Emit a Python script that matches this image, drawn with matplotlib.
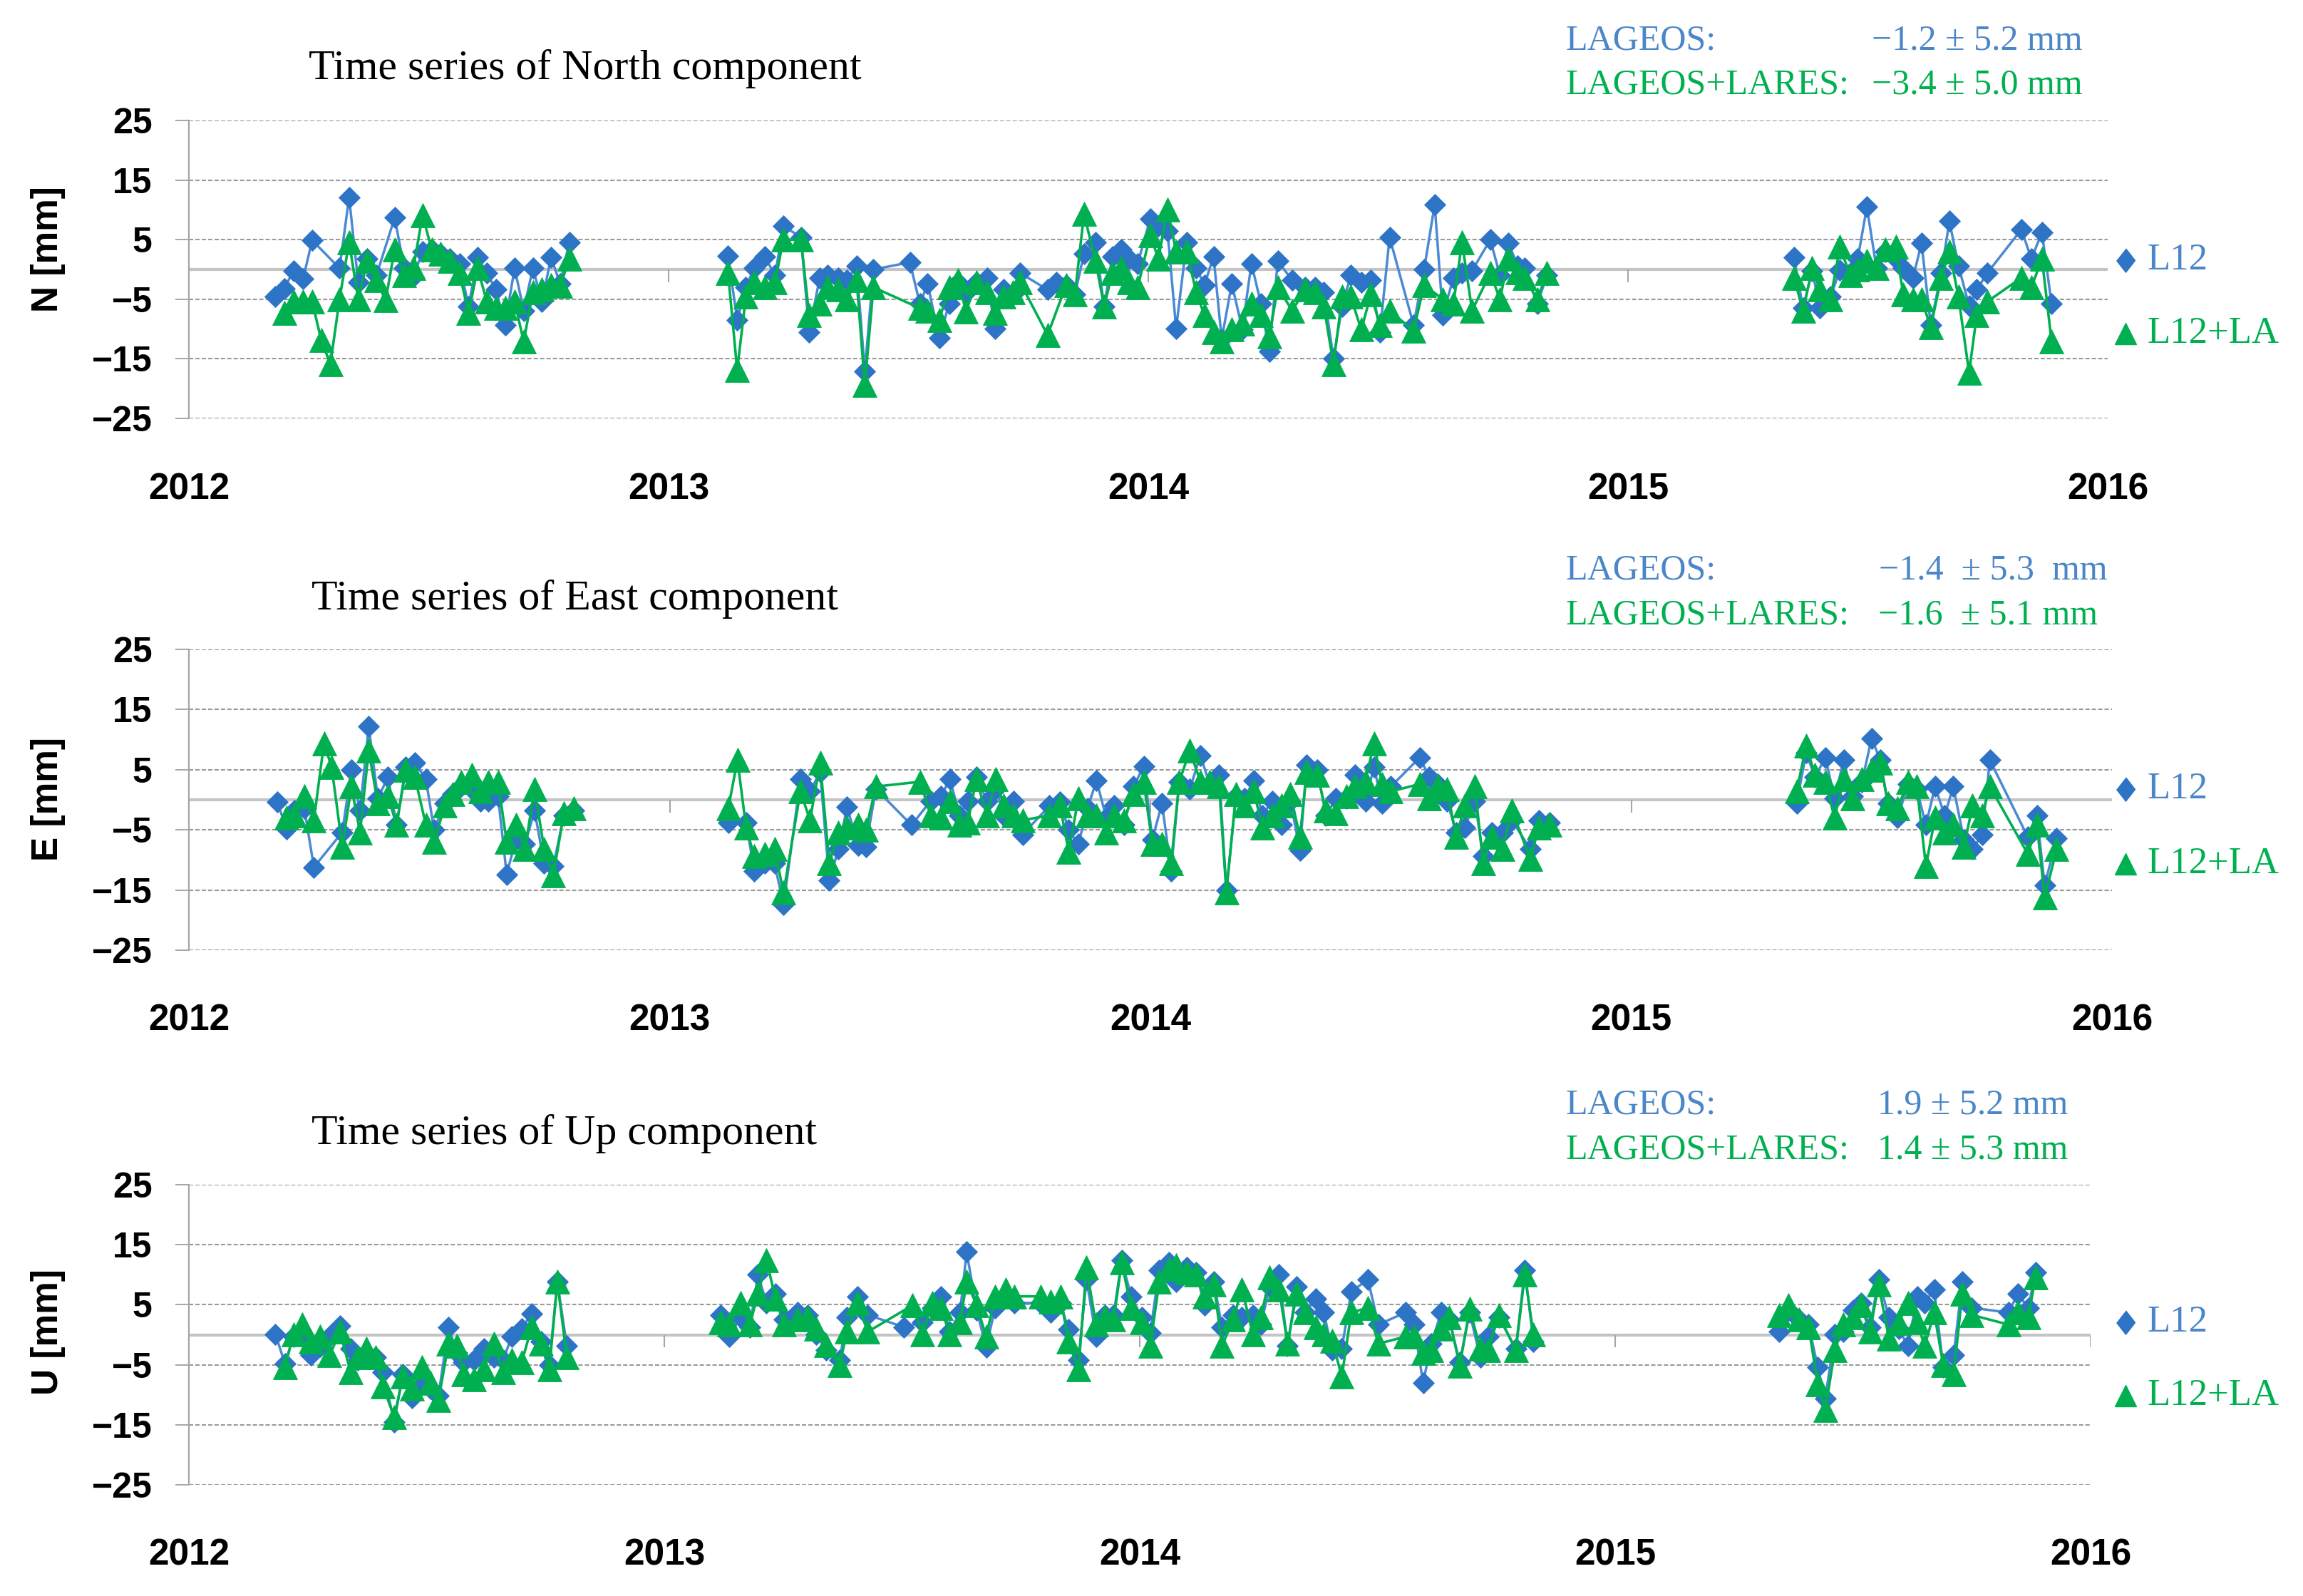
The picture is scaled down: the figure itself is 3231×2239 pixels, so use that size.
import matplotlib
matplotlib.use("Agg")
import matplotlib.pyplot as plt
from matplotlib.lines import Line2D
import numpy as np

# ---------------- data ----------------
years = [2012, 2013, 2014, 2015, 2016]
year_labels = ["2012", "2013", "2014", "2015", "2016"]
yticks = [-25, -15, -5, 5, 15, 25]
ytick_labels = ["\u221225", "\u221215", "\u22125", "5", "15", "25"]

# North component
N_t = [2012.180, 2012.199, 2012.218, 2012.238, 2012.257, 2012.276, 2012.295, 2012.314, 2012.334, 2012.353,
       2012.372, 2012.391, 2012.410, 2012.429, 2012.449, 2012.468, 2012.487, 2012.506, 2012.525, 2012.544,
       2012.564, 2012.583, 2012.602, 2012.621, 2012.640, 2012.659, 2012.679, 2012.698, 2012.717, 2012.736,
       2012.755, 2012.774, 2012.793,
       2013.124, 2013.143, 2013.161, 2013.178, 2013.200, 2013.222, 2013.239, 2013.276, 2013.293, 2013.315,
       2013.332, 2013.354, 2013.372, 2013.392, 2013.409, 2013.427, 2013.503, 2013.524, 2013.540, 2013.564,
       2013.585, 2013.603, 2013.620, 2013.642, 2013.664, 2013.680, 2013.699, 2013.718, 2013.733, 2013.790,
       2013.808, 2013.829, 2013.847, 2013.866, 2013.890, 2013.908, 2013.925, 2013.943, 2013.960, 2013.978,
       2014.004, 2014.021, 2014.040, 2014.058, 2014.080, 2014.100, 2014.117, 2014.136, 2014.153, 2014.174,
       2014.196, 2014.215, 2014.235, 2014.252, 2014.270, 2014.300, 2014.327, 2014.348, 2014.366, 2014.386,
       2014.404, 2014.422, 2014.444, 2014.464, 2014.483, 2014.503, 2014.553, 2014.575, 2014.597, 2014.614,
       2014.636, 2014.654, 2014.675, 2014.713, 2014.733, 2014.751, 2014.770, 2014.784, 2014.811, 2014.831,
       2015.346, 2015.365, 2015.384, 2015.400, 2015.422, 2015.442, 2015.463, 2015.479, 2015.498, 2015.518,
       2015.536, 2015.558, 2015.574, 2015.594, 2015.612, 2015.631, 2015.653, 2015.670, 2015.689, 2015.711,
       2015.727, 2015.749, 2015.820, 2015.841, 2015.863, 2015.883]
N_l12 = [-4.6, -3.2, -0.2, -1.6, 4.9, None, None, 0.2, 12.1, -2.2, 1.8, -1.0, None, 8.7, 0.2, -1.2, 3.0,
         3.4, 2.6, 1.8, 1.0, -6.2, 2.0, -0.6, -3.4, -9.3, 0.2, -6.9, 0.2, -5.4, 2.0, -2.4, 4.6,
         2.3, -8.5, -3.0, 0.2, 2.2, -1.0, 7.3, 5.4, -10.5, -1.4,
         -1.0, -1.4, -1.8, 0.6, -17.1, 0.0, 1.2, -5.8, -2.4, -11.5,
         -5.8, -2.2, -4.0, -2.2, -1.4, -9.9, -3.4, -4.2, -0.6, -3.4,
         -2.2, -2.6, -4.2, 2.6, 4.6, -6.2, 2.2, 3.4, 1.8, 1.0,
         8.5, 7.3, 6.5, -9.9, 4.6, 0.2, -2.6, 2.2, -11.7, -2.4,
         -10.0, 1.0, -5.8, -13.7, 1.4, -1.8, -3.0, -3.0, -3.8, -14.9,
         -6.2, -1.0, -2.2, -1.8, -10.5, 5.4, -9.3, 0.0, 10.9, -7.7,
         -1.4, -0.6, -0.2, 5.0, -1.0, 4.4, 0.6, 0.2, -5.8, -1.0,
         2.0, -6.5, -0.2, -6.5, -4.6, -0.1, -0.6, 1.8, 10.5, 0.2,
         3.0, 1.8, 0.2, -1.4, 4.4, -9.3, -0.6, 8.1, 0.6, -6.1,
         -3.4, -0.6, 6.7, 1.8, 6.2, -5.8]
N_l12la = [None, -7.3, -5.4, -5.4, -5.4, -11.9, -15.9, -5.0, 4.6, -5.0, 1.4, -1.8, -5.2, 3.4, -1.0, 0.2, 9.1,
           3.4, 2.6, 1.4, -0.6, -7.3, 0.2, -5.4, -6.5, -6.5, -5.4, -12.1, -3.8, -3.4, -2.6, -2.8, 1.8,
           -0.6, -16.9, -4.6, -2.2, -3.0, -2.2, 5.0, 5.0, -7.7, -5.8,
           -3.0, -3.4, -5.0, -1.8, -19.4, -3.0, None, -6.5, -6.9, -8.5,
           -3.0, -1.8, -7.0, -2.2, -3.8, -7.3, -4.6, -3.8, -2.2, -11.0,
           None, -2.6, -4.2, 9.3, 1.4, -6.2, -0.6, 0.2, -2.2, -3.0,
           5.8, 1.8, 10.1, 3.0, 3.0, -3.8, -7.7, -10.5, -12.1, -10.1,
           -9.1, -5.8, -7.7, -11.3, -3.0, -6.9, -3.4, -3.8, -6.2, -15.9,
           -4.6, -4.6, -10.1, -4.2, -9.3, -6.9, -10.3, -2.6, None, -5.0,
           -5.8, 4.6, -6.9, -0.6, -5.0, 1.8, -0.5, -1.4, -5.0, -0.6,
           -1.4, -6.9, 0.2, -3.4, -5.0, 3.8, -1.0, 0.0, 1.4, 0.2,
           3.4, 3.8, -4.2, -5.0, -5.0, -9.7, -1.4, 3.0, -4.6, -17.3,
           -7.7, -5.4, -1.4, -3.0, 1.8, -12.1]

# East component
E_t = [2012.184, 2012.203, 2012.220, 2012.240, 2012.260, 2012.281, 2012.297, 2012.319, 2012.338, 2012.356,
       2012.374, 2012.393, 2012.414, 2012.432, 2012.451, 2012.470, 2012.493, 2012.510, 2012.532, 2012.549,
       2012.566, 2012.588, 2012.606, 2012.623, 2012.643, 2012.661, 2012.680, 2012.699, 2012.719, 2012.739,
       2012.758, 2012.780, 2012.800,
       2013.122, 2013.141, 2013.159, 2013.176, 2013.198, 2013.218, 2013.237, 2013.272, 2013.292, 2013.313,
       2013.332, 2013.351, 2013.369, 2013.392, 2013.408, 2013.429, 2013.503, 2013.521, 2013.543, 2013.564,
       2013.583, 2013.603, 2013.620, 2013.638, 2013.660, 2013.679, 2013.695, 2013.716, 2013.734, 2013.790,
       2013.812, 2013.830, 2013.850, 2013.869, 2013.888, 2013.908, 2013.925, 2013.945, 2013.965, 2013.986,
       2014.004, 2014.024, 2014.043, 2014.060, 2014.082, 2014.104, 2014.123, 2014.143, 2014.158, 2014.178,
       2014.195, 2014.215, 2014.233, 2014.253, 2014.273, 2014.291, 2014.311, 2014.325, 2014.347, 2014.365,
       2014.386, 2014.408, 2014.426, 2014.447, 2014.465, 2014.482, 2014.500, 2014.560, 2014.580, 2014.598,
       2014.617, 2014.636, 2014.654, 2014.675, 2014.692, 2014.710, 2014.732, 2014.752, 2014.790, 2014.808,
       2014.830,
       2015.344, 2015.364, 2015.382, 2015.404, 2015.423, 2015.442, 2015.460, 2015.480, 2015.500, 2015.518,
       2015.534, 2015.554, 2015.576, 2015.594, 2015.613, 2015.632, 2015.652, 2015.670, 2015.692, 2015.710,
       2015.730, 2015.746, 2015.825, 2015.844, 2015.860, 2015.885]
E_l12 = [-0.4, -4.8, -1.8, -1.4, -11.2, None, None, -5.4, 5.0, -1.8, 12.2, 0.2, 3.8, -4.2, 5.4, 6.2, 3.4,
         -5.0, -0.6, 1.0, 2.2, 1.8, -0.2, -0.2, 0.6, -12.4, -6.6, -7.4, -1.8, -10.6, -11.0, -2.6, -1.8,
         -3.8, None, -3.8, -11.8, -10.6, -10.6, -17.4, 3.4, 1.4, 4.6,
         -13.4, -8.2, -1.2, -7.6, -7.8, 1.8, -4.2, None, -0.2, 0.6,
         3.4, -2.6, -0.2, 3.8, -0.2, 1.8, -2.6, -0.2, -5.8, -1.0,
         -0.4, -5.0, -7.4, -1.4, 3.2, -3.0, -1.0, -4.2, 2.2, 5.6,
         -6.6, -0.6, -11.8, 3.0, 1.8, 7.4, 2.6, 4.2, -15.0, 0.6,
         0.2, 3.2, -2.6, -0.2, -4.2, -0.2, -8.4, 5.8, 5.0, -2.6,
         0.2, 0.2, 4.2, -0.2, 5.4, -0.6, 2.2, 7.0, 3.8, 2.6,
         -0.2, -5.4, -4.6, -0.2, -9.4, -5.4, -5.4, -3.4, -8.2, -3.4,
         -3.8,
         -0.6, 7.8, 3.8, 7.0, 0.2, 6.6, 0.6, 3.0, 10.2, 6.6,
         -0.6, -3.0, 2.6, 1.8, -4.2, 2.2, -2.6, 2.2, -6.6, -8.2,
         -5.8, 6.6, -6.2, -2.6, -14.2, -6.4]
E_l12la = [None, -3.0, -2.6, 0.6, -3.4, 9.4, 5.4, -7.8, 2.2, -5.4, 8.2, -0.6, 0.6, -4.2, 5.0, 3.8, -4.2,
           -7.0, -1.0, 1.0, 3.0, 4.2, 1.4, 3.0, 3.0, -7.0, -4.2, -8.2, 1.8, -8.2, -12.6, -2.2, -1.4,
           -1.4, 6.6, -4.6, -9.4, -9.0, -8.2, -15.4, 1.4, -3.4, 6.2,
           -10.6, -5.4, -4.6, -4.2, -5.0, 2.2, None, 3.0, -2.6, -3.0,
           -0.2, -4.2, -3.8, 3.4, -2.6, 3.4, -1.0, -2.6, -3.4, -2.6,
           -1.0, -8.6, 0.2, -2.6, -2.6, -5.4, -2.6, -3.4, 1.0, 3.0,
           -7.4, -7.4, -10.6, 3.0, 8.2, 3.0, 3.0, 2.2, -15.4, 1.0,
           -1.0, 1.4, -4.6, -2.6, -1.0, 1.0, -6.2, 4.6, 4.2, -1.8,
           -2.2, 0.6, 2.2, 3.0, 9.4, 2.6, 1.4, 2.6, 0.2, 2.2,
           1.8, -6.2, -1.0, 2.2, -10.6, -6.2, -8.2, -1.8, -9.8, -4.6,
           -4.2,
           1.4, 9.0, 4.2, 3.0, -3.0, 3.4, 0.2, 3.4, 5.0, 6.2,
           -0.6, -1.4, 3.0, 2.2, -11.0, -3.0, -5.4, -4.2, -7.8, -1.0,
           -2.6, 2.2, -9.0, -4.2, -16.2, -8.2]

# Up component
U_t = [2012.182, 2012.202, 2012.220, 2012.239, 2012.256, 2012.276, 2012.296, 2012.318, 2012.340, 2012.355,
       2012.373, 2012.393, 2012.408, 2012.432, 2012.450, 2012.470, 2012.490, 2012.508, 2012.525, 2012.546,
       2012.564, 2012.577, 2012.599, 2012.620, 2012.641, 2012.661, 2012.679, 2012.700, 2012.721, 2012.740,
       2012.758, 2012.775, 2012.795,
       2013.118, 2013.136, 2013.160, 2013.180, 2013.197, 2013.215, 2013.234, 2013.252, 2013.280, 2013.302,
       2013.320, 2013.340, 2013.369, 2013.384, 2013.406, 2013.428, 2013.503, 2013.522, 2013.543, 2013.564,
       2013.582, 2013.600, 2013.622, 2013.636, 2013.657, 2013.677, 2013.696, 2013.718, 2013.736, 2013.791,
       2013.812, 2013.833, 2013.850, 2013.871, 2013.888, 2013.908, 2013.927, 2013.945, 2013.962, 2013.982,
       2014.004, 2014.022, 2014.041, 2014.061, 2014.076, 2014.099, 2014.119, 2014.136, 2014.156, 2014.173,
       2014.196, 2014.215, 2014.238, 2014.255, 2014.273, 2014.293, 2014.311, 2014.330, 2014.348, 2014.370,
       2014.387, 2014.405, 2014.425, 2014.445, 2014.480, 2014.502, 2014.559, 2014.577, 2014.596, 2014.613,
       2014.634, 2014.651, 2014.673, 2014.694, 2014.716, 2014.733, 2014.755, 2014.791, 2014.810, 2014.828,
       2015.345, 2015.365, 2015.387, 2015.407, 2015.426, 2015.442, 2015.462, 2015.480, 2015.500, 2015.517,
       2015.536, 2015.554, 2015.576, 2015.596, 2015.616, 2015.635, 2015.651, 2015.671, 2015.690, 2015.712,
       2015.730, 2015.750, 2015.827, 2015.847, 2015.869, 2015.884]
U_l12 = [0.1, -4.8, -0.3, -0.3, -3.4, -2.0, -0.3, 1.5, -2.3, -4.2, -3.8, -3.8, -6.2, -14.5, -6.6, -10.5, -8.2,
         -9.0, -10.2, 1.3, -3.0, -4.6, -4.2, -2.3, -3.8, -4.2, -0.3, 1.0, 3.5, -1.1, -5.0, 8.8, -1.9,
         3.3, -0.3, 2.9, 1.3, 10.0, 5.3, 6.8, 2.5, 3.7, 3.3,
         0.1, -2.6, -4.2, 2.9, 6.4, 3.3, 1.3, None, 2.1, 4.5,
         6.4, 0.5, 3.7, 13.8, 4.1, -2.1, 4.5, 6.4, 5.3, 5.3,
         3.7, 5.3, 0.9, -4.2, 9.2, -0.3, 3.3, 3.3, 12.4, 6.4,
         2.9, 0.3, 10.8, 12.0, 8.8, 11.2, 10.4, 4.9, 8.8, 1.3,
         3.3, 2.9, 3.3, 1.7, 8.0, 10.0, -1.9, 8.0, 3.7, 6.0,
         3.7, -2.6, -2.3, 7.2, 9.2, 1.7, 3.7, 1.7, -8.0, -1.5,
         3.7, 2.5, -4.6, 3.7, -3.8, -0.3, 2.9, -2.3, 10.8, -1.1,
         0.5, 4.1, 2.5, 1.7, -5.4, -10.6, 0.1, 0.5, 4.1, 5.3,
         1.3, 9.2, 2.9, 1.0, -1.9, 6.4, 5.3, 7.6, -5.4, -3.4,
         8.8, 4.5, 3.7, 6.8, 4.5, 10.4]
U_l12la = [None, -5.4, 0.1, 1.7, -1.1, -0.3, -3.4, 0.5, -6.2, -3.8, -2.3, -3.8, -8.6, -13.7, -7.0, -9.0, -5.4,
           -8.0, -10.9, -1.5, -1.9, -6.6, -7.4, -5.8, -1.5, -6.2, -4.2, -4.6, 1.3, -1.5, -5.8, 8.8, -3.8,
           2.1, 1.7, 5.3, 1.7, 6.8, 12.4, 6.0, 1.7, 2.5, 2.9,
           1.0, -1.7, -5.0, 0.5, 5.3, 0.5, None, 4.9, 0.1, 5.3,
           4.5, 0.1, 2.1, 8.8, 4.9, -0.3, 6.4, 7.6, 6.4, 6.4,
           5.5, 6.4, -1.1, -5.8, 11.2, 1.7, 2.9, 2.5, 12.0, 4.5,
           2.1, -1.9, 8.8, 11.0, 11.6, 10.4, 10.0, 6.4, 8.4, -1.9,
           2.5, 7.6, 0.1, 2.9, 9.6, 7.6, -1.5, 6.8, 3.7, 1.3,
           0.1, -1.0, -7.0, 3.7, 4.5, -1.5, -0.3, -0.3, -3.0, -2.6,
           1.0, 2.9, -5.2, 4.3, -2.3, -2.6, 3.3, -2.6, 10.0, 0.1,
           3.3, 4.9, 2.5, 1.3, -8.2, -12.5, -2.6, 1.7, 2.9, 4.9,
           0.5, 8.4, -0.7, 2.0, 5.3, 2.1, -1.9, 3.7, -5.0, -6.6,
           6.8, 3.3, 1.7, 3.7, 2.9, 9.6]

titles = ["Time series of North component", "Time series of East component", "Time series of Up component"]
ylabels = ["N [mm]", "E [mm]", "U [mm]"]
stats_l12 = ["\u22121.2 \u00b1 5.2 mm", "\u22121.4  \u00b1 5.3  mm", "1.9 \u00b1 5.2 mm"]
stats_l12la = ["\u22123.4 \u00b1 5.0 mm", "\u22121.6  \u00b1 5.1 mm", "1.4 \u00b1 5.3 mm"]
legend_labels = ["L12", "L12+LA"]

# ---------------- style ----------------
BLUE_M = "#2e74c6"
BLUE_L = "#4a8ad4"
BLUE_T = "#4a86c8"
GREEN = "#00b050"
GRID = "#9a9a9a"
AXIS = "#a6a6a6"
SERIF = "Liberation Serif"
SANS = "Liberation Sans"

W, H = 3231, 2239
fig = plt.figure(figsize=(W / 100, H / 100), dpi=100)


def fx(px):
    return px / W


def fy(py):
    return 1 - py / H


# layout in pixels: (left, right, top(=+25), bottom(=-25))
layouts = [(265, 2957, 169, 587), (265, 2963, 911, 1333), (265, 2933, 1662, 2083)]
title_pos = [(433, 97), (437, 841), (437, 1591)]
ylabel_y = [350, 1121, 1869]
stat_rows = [(57, 119, 2922, 2922), (800, 863, 2957, 2943), (1550, 1613, 2901, 2901)]
legend_rows = [(365, 468), (1107, 1212), (1855, 1958)]
year_ticks_shown = [[2013, 2014, 2015], [2013, 2014, 2015], [2013, 2014, 2015, 2016]]

series = [(N_t, N_l12, N_l12la), (E_t, E_l12, E_l12la), (U_t, U_l12, U_l12la)]
tall_diamond = [(0, 1), (0.78, 0), (0, -1), (-0.78, 0)]


def prep(t, v):
    t = np.asarray(t, float)
    v = np.array([np.nan if x is None else x for x in v], float)
    ok = ~np.isnan(v)
    t, v = t[ok], v[ok]
    gaps = np.where(np.diff(t) > 0.2)[0] + 1
    return np.insert(t, gaps, np.nan), np.insert(v, gaps, np.nan)


for i in range(3):
    l, r, top, bot = layouts[i]
    ax = fig.add_axes([fx(l), fy(bot), fx(r - l), (bot - top) / H])
    ax.set_xlim(2012, 2016)
    ax.set_ylim(-25, 25)
    for s in ["top", "right", "bottom"]:
        ax.spines[s].set_visible(False)
    ax.spines["left"].set_color(AXIS)
    ax.spines["left"].set_linewidth(1.6)
    ax.set_yticks(yticks)
    ax.set_yticklabels(ytick_labels, fontfamily=SANS, fontweight="bold", fontsize=36)
    ax.tick_params(axis="y", length=14, width=1.4, color=AXIS, pad=23)
    ax.set_xticks(years)
    ax.set_xticklabels(year_labels, fontfamily=SANS, fontweight="bold", fontsize=37)
    ax.tick_params(axis="x", length=0, pad=54)
    ax.yaxis.grid(True, color=GRID, lw=1.5, ls=(0, (2.9, 1.4)))
    ax.set_axisbelow(True)
    ax.axhline(0, color="#c4c4c4", lw=3.0, zorder=1.5)
    ax.vlines(year_ticks_shown[i], -2.1, 0, color=AXIS, lw=1.5, zorder=1.6)

    t, a, b = series[i]
    ta, va = prep(t, a)
    ax.plot(ta, va, color=BLUE_L, lw=2.5, marker="D", ms=15.5, mfc=BLUE_M, mec=BLUE_M, mew=0.6, zorder=3)
    tb, vb = prep(t, b)
    ax.plot(tb, vb, color=GREEN, lw=2.6, marker="^", ms=24.5, mfc=GREEN, mec=GREEN, mew=0.6, zorder=4)

    # title
    tx, ty = title_pos[i]
    fig.text(fx(tx), fy(ty), titles[i], fontfamily=SERIF, fontsize=43, ha="left", va="center")
    # y label
    fig.text(fx(68), fy(ylabel_y[i]), ylabels[i], fontfamily=SANS, fontweight="bold", fontsize=37,
             rotation=90, ha="center", va="center")
    # stats
    y1, y2, r1, r2 = stat_rows[i]
    fig.text(fx(2197), fy(y1), "LAGEOS:", fontfamily=SERIF, fontsize=36, color=BLUE_T, ha="left", va="center")
    fig.text(fx(r1), fy(y1), stats_l12[i], fontfamily=SERIF, fontsize=36, color=BLUE_T, ha="right", va="center")
    fig.text(fx(2197), fy(y2), "LAGEOS+LARES:", fontfamily=SERIF, fontsize=36, color=GREEN, ha="left", va="center")
    fig.text(fx(r2), fy(y2), stats_l12la[i], fontfamily=SERIF, fontsize=36, color=GREEN, ha="right", va="center")
    # right-side legend
    ly1, ly2 = legend_rows[i]
    fig.add_artist(Line2D([fx(2982)], [fy(ly1)], marker=tall_diamond, ms=24, color=BLUE_M, ls="none",
                          transform=fig.transFigure))
    fig.add_artist(Line2D([fx(2982)], [fy(ly2)], marker="^", ms=22, color=GREEN, ls="none",
                          transform=fig.transFigure))
    fig.text(fx(3013), fy(ly1), legend_labels[0], fontfamily=SERIF, fontsize=38, color=BLUE_T, ha="left", va="center")
    fig.text(fx(3013), fy(ly2), legend_labels[1], fontfamily=SERIF, fontsize=38, color=GREEN, ha="left", va="center")

fig.savefig("out.png", dpi=100)
